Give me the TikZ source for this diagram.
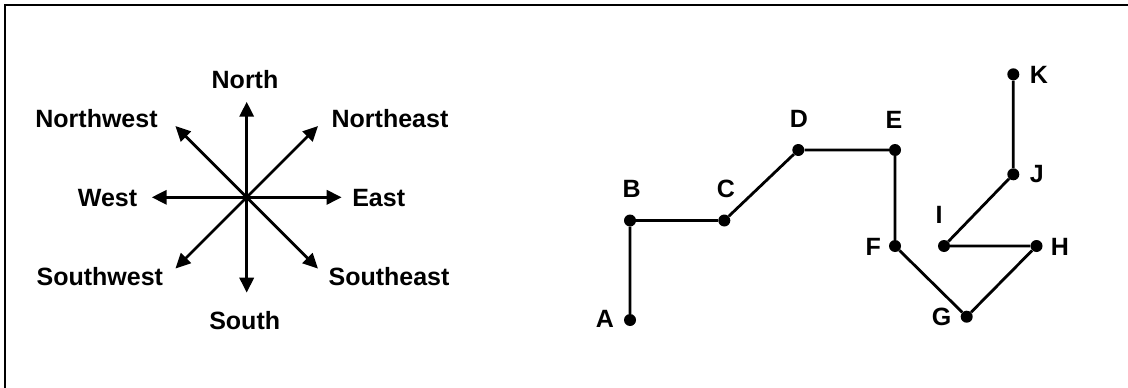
\documentclass[tikz,border=0pt]{standalone}
\usepackage{fontspec}
\setmainfont{Liberation Sans}
\usetikzlibrary{arrows.meta}
\begin{document}
\begin{tikzpicture}[x=1pt,y=-1pt,
  lbl/.style={font=\fontsize{25}{30}\selectfont\bfseries, inner sep=0pt},
  axis/.style={line width=3.4pt, -{Triangle[length=15pt,width=14pt]}},
  diag/.style={line width=2.8pt, -{Triangle[length=15pt,width=14pt]}},
  edge/.style={line width=2.8pt},
  dot/.style={circle, fill=black, inner sep=0pt, minimum size=12pt}]
\useasboundingbox (0,0) rectangle (1128,388);
% frame (only top and left edges visible)
\draw[line width=2.5pt] (5,392) -- (5,5) -- (1132,5);

% ---- compass ----
\coordinate (O) at (246.7,197.3);
\coordinate (tN) at (246.7,101.7);
\coordinate (tS) at (246.7,292.7);
\coordinate (tE) at (341.7,197.3);
\coordinate (tW) at (151.7,197.3);
\coordinate (tNE) at (318,126);
\coordinate (tNW) at (175.4,126);
\coordinate (tSW) at (175.4,268.6);
\coordinate (tSE) at (318,268.6);
\draw[axis] (O) -- (tN);
\draw[axis] (O) -- (tS);
\draw[axis] (O) -- (tE);
\draw[axis] (O) -- (tW);
\draw[diag] (O) -- (tNE);
\draw[diag] (O) -- (tNW);
\draw[diag] (O) -- (tSW);
\draw[diag] (O) -- (tSE);

\node[lbl] (lN) at (245,79.5) {North};
\node[lbl] (lNW) at (96.5,118.7) {Northwest};
\node[lbl] (lNE) at (390,118.7) {Northeast};
\node[lbl] (lW) at (107.5,198) {West};
\node[lbl] (lE) at (378.7,198) {East};
\node[lbl] (lSW) at (99.8,277) {Southwest};
\node[lbl] (lSE) at (389,277) {Southeast};
\node[lbl] (lS) at (244.7,321) {South};

% ---- path ----
\node[dot] (A) at (630,320) {};
\node[dot] (B) at (630,220.5) {};
\node[dot] (C) at (724.3,220.5) {};
\node[dot] (D) at (798.3,150) {};
\node[dot] (E) at (895,150) {};
\node[dot] (F) at (895,246) {};
\node[dot] (G) at (966.7,316.7) {};
\node[dot] (H) at (1036.5,246) {};
\node[dot] (I) at (944,246) {};
\node[dot] (J) at (1013.3,174.3) {};
\node[dot] (K) at (1013.3,74.3) {};

\draw[edge] (A) -- (B) -- (C) -- (D) -- (E) -- (F) -- (G) -- (H) -- (I) -- (J) -- (K);

\node[lbl] (lA) at (605,319) {A};
\node[lbl] (lB) at (631.7,189.3) {B};
\node[lbl] (lC) at (726,189.3) {C};
\node[lbl] (lD) at (799,119) {D};
\node[lbl] (lEl) at (894,120) {E};
\node[lbl] (lF) at (873.3,246.7) {F};
\node[lbl] (lG) at (941.7,316.7) {G};
\node[lbl] (lH) at (1060,247.3) {H};
\node[lbl] (lI) at (939,215) {I};
\node[lbl] (lJ) at (1036.7,174.3) {J};
\node[lbl] (lK) at (1039,75) {K};
\end{tikzpicture}
\end{document}
